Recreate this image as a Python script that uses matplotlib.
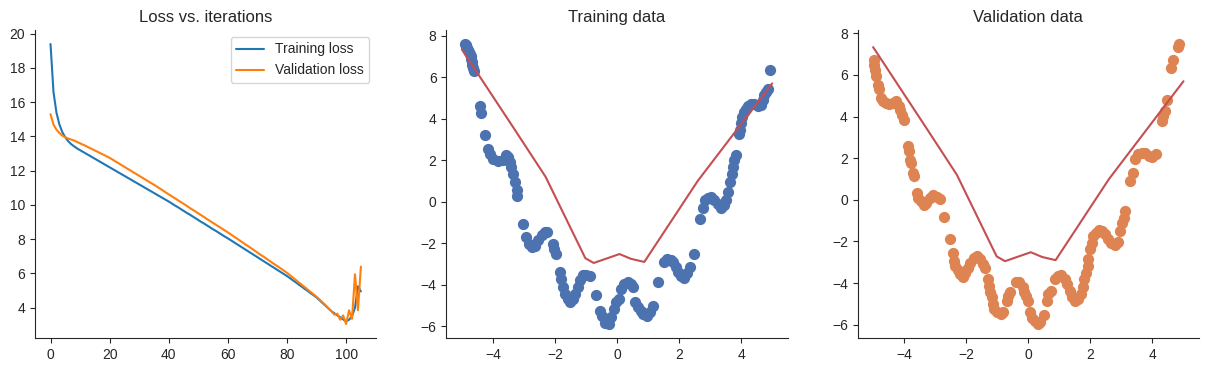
import matplotlib
matplotlib.use("Agg")
import matplotlib.pyplot as plt
import seaborn as sns

sns.set_style("ticks")
plt.rcParams['font.family'] = ['Liberation Sans', 'DejaVu Sans']

iterations = list(range(106))
training_loss = [
    19.40, 16.60, 15.40, 14.70, 14.25, 13.95, 13.72, 13.55, 13.42, 13.30,
    13.20, 13.10, 13.00, 12.90, 12.80, 12.70, 12.60, 12.50, 12.40, 12.30,
    12.20, 12.10, 12.00, 11.90, 11.80, 11.70, 11.60, 11.50, 11.40, 11.30,
    11.20, 11.10, 11.00, 10.90, 10.80, 10.70, 10.60, 10.50, 10.40, 10.30,
    10.20, 10.09, 9.98, 9.88, 9.77, 9.66, 9.55, 9.45, 9.34, 9.23,
    9.12, 9.01, 8.91, 8.80, 8.69, 8.58, 8.48, 8.37, 8.26, 8.15,
    8.05, 7.94, 7.83, 7.72, 7.61, 7.50, 7.39, 7.28, 7.17, 7.06,
    6.95, 6.84, 6.73, 6.62, 6.51, 6.40, 6.29, 6.18, 6.07, 5.96,
    5.85, 5.73, 5.60, 5.48, 5.35, 5.23, 5.10, 4.98, 4.85, 4.73,
    4.60, 4.44, 4.28, 4.12, 3.96, 3.80, 3.68, 3.56, 3.44, 3.32,
    3.20, 3.30, 3.50, 4.00, 5.25, 4.95]
validation_loss = [
    15.30, 14.70, 14.40, 14.20, 14.05, 13.95, 13.88, 13.82, 13.76, 13.68,
    13.60, 13.52, 13.44, 13.35, 13.27, 13.18, 13.10, 13.01, 12.93, 12.84,
    12.75, 12.65, 12.54, 12.44, 12.33, 12.23, 12.12, 12.02, 11.91, 11.81,
    11.70, 11.60, 11.49, 11.39, 11.28, 11.18, 11.07, 10.96, 10.85, 10.73,
    10.62, 10.51, 10.40, 10.29, 10.18, 10.07, 9.96, 9.84, 9.73, 9.62,
    9.51, 9.40, 9.29, 9.17, 9.06, 8.95, 8.84, 8.73, 8.62, 8.51,
    8.40, 8.28, 8.16, 8.05, 7.93, 7.81, 7.69, 7.58, 7.46, 7.34,
    7.22, 7.10, 6.99, 6.87, 6.75, 6.63, 6.51, 6.40, 6.28, 6.16,
    6.04, 5.90, 5.76, 5.62, 5.48, 5.34, 5.20, 5.06, 4.92, 4.78,
    4.64, 4.48, 4.32, 4.15, 3.98, 3.80, 3.60, 3.65, 3.30, 3.55,
    3.05, 3.85, 3.35, 5.95, 3.85, 6.40]

train_x = [-4.90, -4.88, -4.85, -4.82, -4.80, -4.78, -4.75, -4.72, -4.70, -4.68,
           -4.66, -4.64, -4.62, -4.42, -4.39, -4.26, -4.15, -4.10, -4.00, -3.83,
           -3.67, -3.58, -3.50, -3.45, -3.40, -3.34, -3.29, -3.23, -3.21, -3.02,
           -2.93, -2.85, -2.75, -2.64, -2.53, -2.43, -2.32, -2.24, -2.07, -2.03,
           -1.97, -1.85, -1.81, -1.75, -1.67, -1.58, -1.51, -1.42, -1.35, -1.27,
           -1.19, -1.10, -0.99, -0.88, -0.67, -0.54, -0.49, -0.38, -0.27, -0.19,
           -0.11, -0.02, 0.05, 0.13, 0.23, 0.34, 0.45, 0.51, 0.59, 0.67,
           0.76, 0.85, 0.96, 1.06, 1.17, 1.32, 1.52, 1.60, 1.73, 1.82,
           1.90, 1.98, 2.06, 2.15, 2.26, 2.34, 2.47, 2.69, 2.76, 2.84,
           2.93, 3.04, 3.14, 3.25, 3.36, 3.45, 3.52, 3.58, 3.63, 3.69,
           3.74, 3.77, 3.82, 3.94, 3.97, 3.99, 4.04, 4.10, 4.15, 4.21,
           4.31, 4.42, 4.53, 4.64, 4.69, 4.74, 4.80, 4.85, 4.94]
train_y = [7.60, 7.55, 7.50, 7.40, 7.30, 7.20, 7.10, 7.00, 6.90, 6.75,
           6.60, 6.45, 6.30, 4.60, 4.28, 3.20, 2.56, 2.32, 2.08, 1.97,
           2.03, 2.24, 2.16, 1.92, 1.68, 1.35, 0.95, 0.55, 0.30, -1.09,
           -1.70, -2.03, -2.19, -2.11, -1.86, -1.62, -1.46, -1.46, -2.03, -2.27,
           -2.54, -3.39, -3.72, -4.12, -4.44, -4.68, -4.84, -4.68, -4.44, -4.12,
           -3.79, -3.55, -3.51, -3.60, -4.47, -5.24, -5.49, -5.86, -5.89, -5.57,
           -5.16, -4.84, -4.68, -4.20, -3.96, -3.88, -3.96, -4.12, -4.84, -5.05,
           -5.24, -5.40, -5.49, -5.32, -5.00, -3.88, -2.91, -2.75, -2.80, -2.91,
           -3.15, -3.39, -3.60, -3.67, -3.44, -3.15, -2.54, -0.82, -0.29, 0.07,
           0.20, 0.23, 0.07, -0.13, -0.29, -0.18, 0.10, 0.47, 0.95, 1.35,
           1.68, 1.99, 2.24, 3.28, 3.44, 3.77, 4.09, 4.33, 4.49, 4.60,
           4.70, 4.70, 4.60, 4.65, 4.90, 5.14, 5.30, 5.41, 6.37]

val_x = [-4.98, -4.97, -4.95, -4.92, -4.85, -4.82, -4.74, -4.69, -4.60, -4.49,
         -4.36, -4.25, -4.16, -4.12, -4.06, -4.00, -3.86, -3.83, -3.81, -3.78,
         -3.70, -3.68, -3.60, -3.55, -3.47, -3.37, -3.28, -3.17, -3.06, -2.93,
         -2.84, -2.71, -2.52, -2.43, -2.39, -2.35, -2.28, -2.19, -2.11, -2.03,
         -1.95, -1.87, -1.76, -1.65, -1.54, -1.45, -1.41, -1.30, -1.27, -1.22,
         -1.16, -1.13, -1.09, -1.00, -0.89, -0.80, -0.69, -0.65, -0.59, -0.40,
         -0.29, -0.18, -0.13, -0.08, -0.02, 0.07, 0.12, 0.20, 0.30, 0.39,
         0.50, 0.61, 0.65, 0.72, 0.85, 0.96, 1.06, 1.17, 1.25, 1.34,
         1.41, 1.50, 1.61, 1.69, 1.75, 1.80, 1.86, 1.91, 1.93, 1.99,
         2.04, 2.10, 2.17, 2.28, 2.39, 2.48, 2.56, 2.67, 2.78, 2.89,
         2.96, 3.02, 3.07, 3.10, 3.29, 3.37, 3.45, 3.54, 3.65, 3.76,
         3.89, 4.00, 4.10, 4.32, 4.35, 4.41, 4.46, 4.59, 4.67, 4.81,
         4.86]
val_y = [6.72, 6.48, 6.24, 5.96, 5.52, 5.32, 4.90, 4.73, 4.65, 4.62,
         4.65, 4.73, 4.52, 4.33, 4.09, 3.85, 2.57, 2.33, 1.93, 1.77,
         1.30, 1.14, 0.34, 0.10, -0.06, -0.27, -0.15, 0.10, 0.21, 0.14,
         0.02, -0.81, -1.90, -2.54, -2.94, -3.18, -3.37, -3.58, -3.70, -3.50,
         -3.26, -3.02, -2.78, -2.70, -2.86, -3.10, -3.26, -3.81, -4.13, -4.44,
         -4.69, -5.00, -5.25, -5.41, -5.49, -5.41, -4.85, -4.60, -4.44, -3.97,
         -3.97, -4.18, -4.44, -4.60, -4.85, -5.39, -5.66, -5.81, -5.97, -5.86,
         -5.54, -4.85, -4.52, -4.36, -3.81, -3.64, -3.62, -3.81, -4.04, -4.36,
         -4.69, -4.85, -4.77, -4.52, -4.20, -3.81, -3.50, -3.18, -2.86, -2.38,
         -2.06, -1.74, -1.58, -1.46, -1.50, -1.66, -1.87, -2.06, -2.15, -2.03,
         -1.50, -1.10, -0.86, -0.54, 0.90, 1.31, 1.95, 2.19, 2.27, 2.24,
         2.11, 2.08, 2.19, 3.78, 4.02, 4.26, 4.82, 6.34, 6.74, 7.36,
         7.49]

pred_x = [-5.00, -3.35, -2.30, -1.02, -0.75, 0.08, 0.45, 0.88, 2.60, 5.00]
pred_y = [7.34, 3.60, 1.20, -2.72, -2.95, -2.52, -2.75, -2.90, 1.00, 5.70]

deep = sns.color_palette("deep")

fig, axes = plt.subplots(1, 3, figsize=(12.07, 3.72), dpi=100)
fig.subplots_adjust(left=35/1207, right=1199/1207, bottom=1-338/372, top=1-30/372,
                    wspace=70/342)

ax = axes[0]
ax.plot(iterations, training_loss, label="Training loss")
ax.plot(iterations, validation_loss, label="Validation loss")
ax.set_title("Loss vs. iterations")
ax.legend(loc="upper right")

ax = axes[1]
ax.scatter(train_x, train_y, color=deep[0], s=50)
ax.plot(pred_x, pred_y, color=deep[3])
ax.set_title("Training data")

ax = axes[2]
ax.scatter(val_x, val_y, color=deep[1], s=50)
ax.plot(pred_x, pred_y, color=deep[3])
ax.set_title("Validation data")

sns.despine(fig=fig)
fig.savefig("out.png", dpi=100)
